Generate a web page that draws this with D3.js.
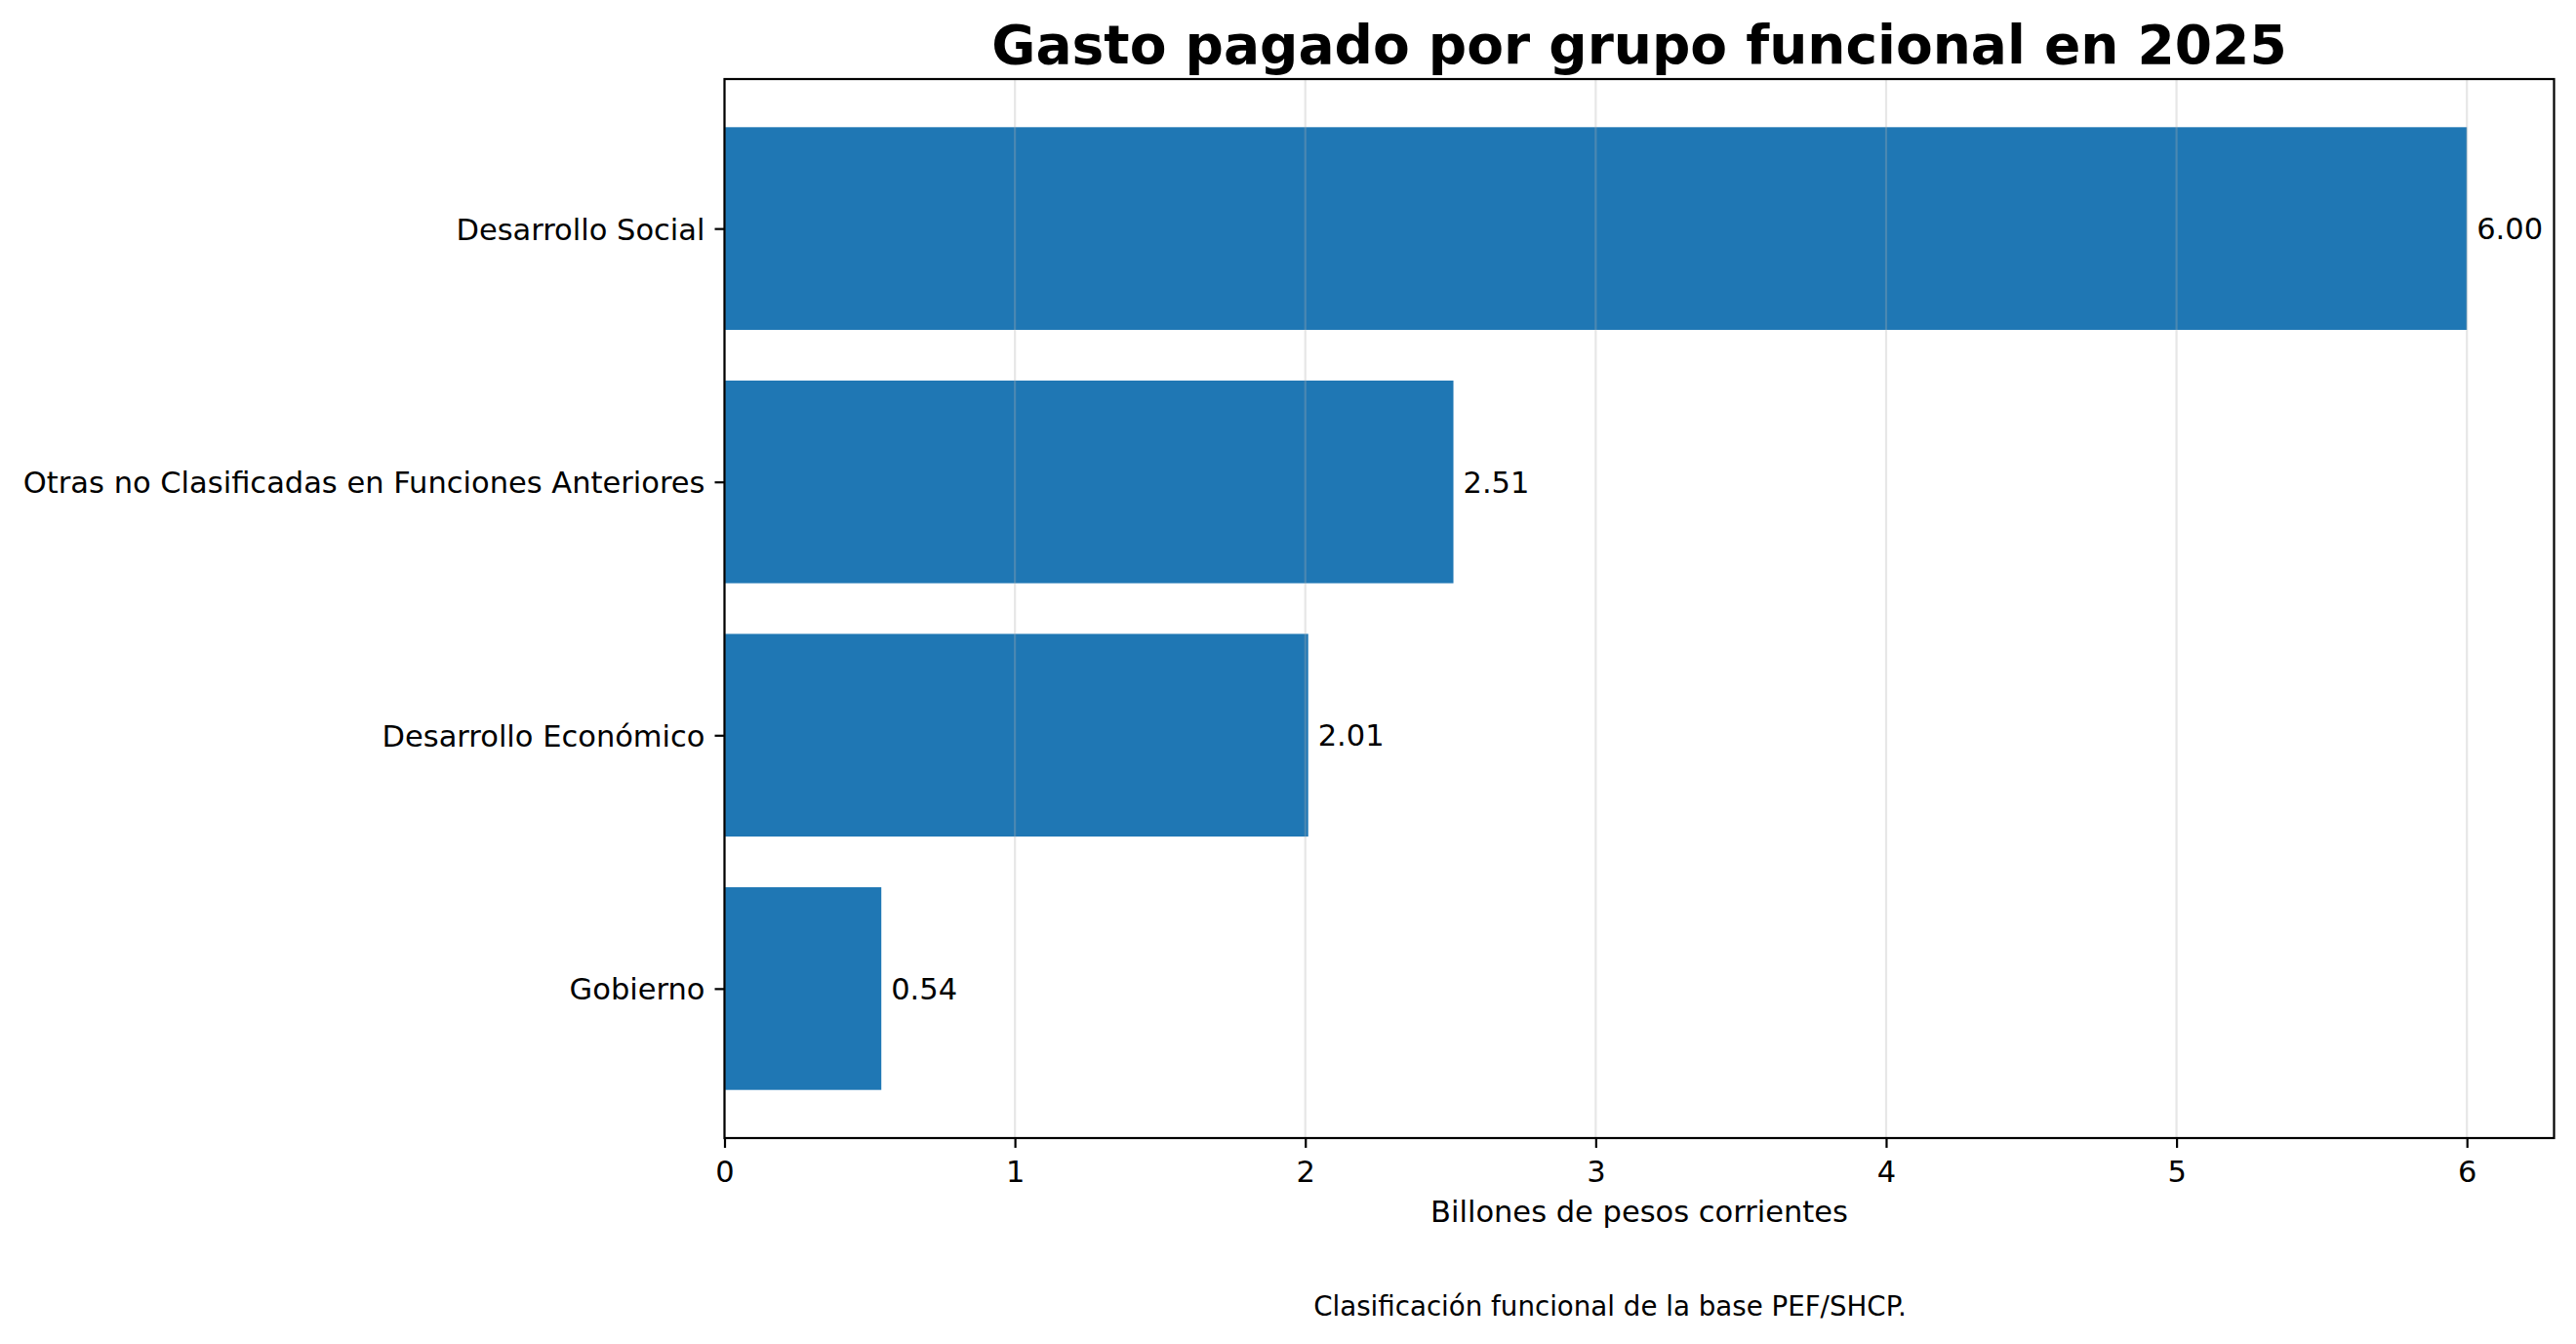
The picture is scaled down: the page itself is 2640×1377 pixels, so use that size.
<!DOCTYPE html>
<html>
<head>
<meta charset="utf-8">
<script src="https://cdn.jsdelivr.net/npm/d3@7"></script>
<style>
html,body{margin:0;padding:0;background:#fff;}
svg{display:block;}
text{font-family:"DejaVu Sans",sans-serif;fill:#000;}
</style>
</head>
<body>
<svg id="chart" width="2640" height="1377"></svg>
<script>
const categories = ["Desarrollo Social","Otras no Clasificadas en Funciones Anteriores","Desarrollo Económico","Gobierno"];
const values = [6.00, 2.51, 2.01, 0.54];
const labels = ["6.00","2.51","2.01","0.54"];
const xTicks = [0,1,2,3,4,5,6];
const titleText = "Gasto pagado por grupo funcional en 2025";
const xLabelText = "Billones de pesos corrientes";
const noteText = "Clasificación funcional de la base PEF/SHCP.";

const W = 2640, H = 1377;
const m = {left: 742.5, right: 2617.5, top: 81, bottom: 1166};
const svg = d3.select("#chart");

const x = d3.scaleLinear().domain([0, 6.3]).range([m.left, m.right]);
const y = d3.scaleLinear().domain([-0.59, 3.59]).range([m.top, m.bottom]);
const fs = 30.5;

// bars
svg.append("g").selectAll("rect").data(values).join("rect")
  .attr("x", x(0))
  .attr("y", (d,i) => y(i - 0.4))
  .attr("width", d => x(d) - x(0))
  .attr("height", (d,i) => y(i + 0.4) - y(i - 0.4))
  .attr("fill", "#1f77b4");

// grid (above bars)
svg.append("g").selectAll("line").data(xTicks).join("line")
  .attr("x1", d => x(d)).attr("x2", d => x(d))
  .attr("y1", m.top).attr("y2", m.bottom)
  .attr("stroke", "#b0b0b0").attr("stroke-opacity", 0.3).attr("stroke-width", 2.2);

// value labels
svg.append("g").selectAll("text").data(values).join("text")
  .attr("x", d => x(d) + 10)
  .attr("y", (d,i) => y(i) + 11)
  .attr("font-size", fs)
  .text((d,i) => labels[i]);

// frame
svg.append("rect")
  .attr("x", m.left).attr("y", m.top)
  .attr("width", m.right - m.left).attr("height", m.bottom - m.top)
  .attr("fill", "none").attr("stroke", "#000").attr("stroke-width", 2.2);

// x axis
const xAxis = d3.axisBottom(x).tickValues(xTicks).tickFormat(d3.format("d")).tickSize(10).tickPadding(12);
const gx = svg.append("g").attr("transform", `translate(0,${m.bottom})`).call(xAxis);
gx.select(".domain").remove();
gx.selectAll(".tick line").attr("stroke", "#000").attr("stroke-width", 2.2);
gx.selectAll(".tick text").attr("font-size", fs).attr("font-family", "DejaVu Sans").attr("fill", "#000")
  .attr("dy", null).attr("y", 45);

// y axis
const yBand = d3.scaleOrdinal().domain(categories).range(categories.map((c,i) => y(i)));
const yAxis = d3.axisLeft(yBand).tickSize(10).tickPadding(10);
const gy = svg.append("g").attr("transform", `translate(${m.left},0)`).call(yAxis);
gy.select(".domain").remove();
gy.selectAll(".tick line").attr("stroke", "#000").attr("stroke-width", 2.2);
gy.selectAll(".tick text").attr("font-size", fs).attr("font-family", "DejaVu Sans").attr("fill", "#000")
  .attr("dy", "0.36em");

// title
svg.append("text").attr("x", (m.left + m.right)/2).attr("y", 65)
  .attr("text-anchor", "middle").attr("font-size", 55).attr("font-weight", "bold")
  .text(titleText);

// x label
svg.append("text").attr("x", (m.left + m.right)/2).attr("y", 1252)
  .attr("text-anchor", "middle").attr("font-size", fs).text(xLabelText);

// note
svg.append("text").attr("x", 1650).attr("y", 1348)
  .attr("text-anchor", "middle").attr("font-size", 27.7).text(noteText);
</script>
</body>
</html>
